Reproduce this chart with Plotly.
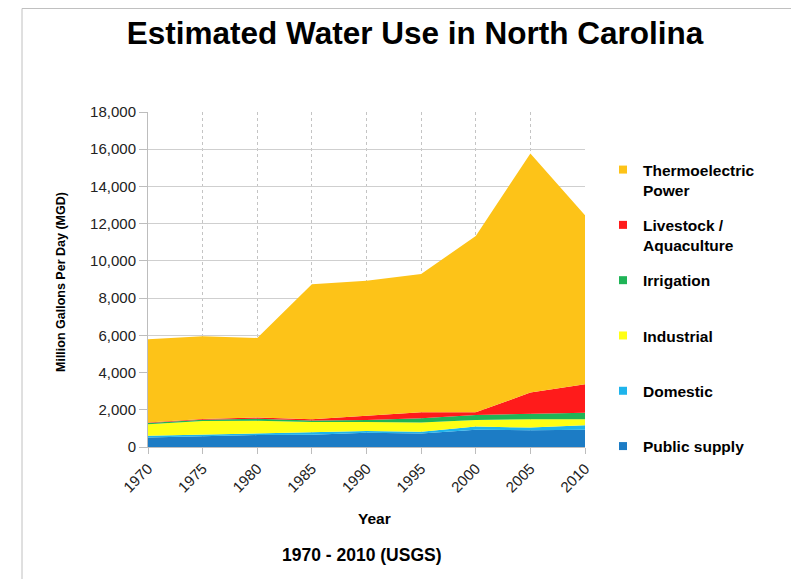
import plotly.graph_objects as go

years = [1970, 1975, 1980, 1985, 1990, 1995, 2000, 2005, 2010]
public_supply = [510, 590, 640, 660, 770, 720, 930, 900, 930]
domestic = [90, 70, 75, 110, 90, 105, 165, 145, 235]
industrial = [625, 735, 695, 570, 485, 485, 355, 450, 325]
irrigation = [70, 75, 110, 90, 105, 230, 270, 300, 355]
livestock = [20, 35, 60, 55, 235, 325, 145, 1130, 1525]
thermoelectric = [4470, 4445, 4280, 7265, 7245, 7425, 9475, 12845, 9080]

series = [
    ("Public supply", public_supply, "#1C7CC5"),
    ("Domestic", domestic, "#1EB4EC"),
    ("Industrial", industrial, "#FFFF14"),
    ("Irrigation", irrigation, "#1FB457"),
    ("Livestock /<br>Aquaculture", livestock, "#FF1B1B"),
    ("Thermoelectric<br>Power", thermoelectric, "#FDC318"),
]

fig = go.Figure()
for i, (name, vals, col) in enumerate(series):
    fig.add_trace(go.Scatter(
        x=years, y=vals, name=name, mode="lines",
        stackgroup="one", line=dict(width=0, color=col),
        fillcolor=col, legendgroup=f"g{i}", showlegend=False,
    ))
# legend entries, top to bottom: Thermoelectric ... Public supply
for i, (name, vals, col) in reversed(list(enumerate(series))):
    label = name if "<br>" in name else name + "<br> "
    fig.add_trace(go.Scatter(
        x=[None], y=[None], name=label, mode="markers",
        marker=dict(symbol="square", size=8, color=col),
        legendgroup=f"g{i}", showlegend=True,
    ))

OFF = 8  # page body margin
W, H = 799 - OFF, 579 - OFF
L, R, T, B = 148 - OFF, 585 - OFF, 112 - OFF, 447 - OFF
pw, ph = R - L, B - T

def px(x):
    return (x - OFF - L) / pw

def py(y):
    return (B - (y - OFF)) / ph

fig.update_layout(
    width=W, height=H,
    margin=dict(l=L, r=W - R, t=T, b=H - B, autoexpand=False),
    paper_bgcolor="white", plot_bgcolor="white",
    font=dict(family="Liberation Sans, Arial, sans-serif", color="#000"),
    title=dict(text="<b>Estimated Water Use in North Carolina</b>",
               font=dict(size=31.5, color="#000"),
               x=(415 - OFF) / W, xref="container", xanchor="center",
               y=1 - (33 - OFF) / H, yref="container", yanchor="middle"),
    showlegend=True,
    legend=dict(
        traceorder="grouped", tracegroupgap=12, valign="top",
        x=px(603), xanchor="left", y=py(153), yanchor="top",
        font=dict(size=15.5, color="#000", family="Liberation Sans, Arial, sans-serif", weight="bold"),
        itemwidth=30, bgcolor="rgba(0,0,0,0)",
    ),
    xaxis=dict(
        range=[1970, 2010], tickmode="array", tickvals=years,
        ticktext=[str(y) for y in years], tickangle=-45,
        showgrid=True, gridcolor="#C4C4C4", griddash="3px,3px", gridwidth=1,
        showline=True, linecolor="#BDBDBD", ticks="outside", ticklen=6,
        tickcolor="#BDBDBD", tickfont=dict(size=15, color="#222"),
        zeroline=False, automargin=False,
    ),
    yaxis=dict(
        range=[0, 18000], tickmode="array",
        tickvals=list(range(0, 18001, 2000)),
        ticktext=[f"{v:,}" for v in range(0, 18001, 2000)],
        showgrid=True, gridcolor="#CFCFCF", gridwidth=1,
        showline=True, linecolor="#BDBDBD", ticks="outside", ticklen=8,
        tickcolor="#BDBDBD", tickfont=dict(size=15, color="#222"),
        zeroline=False, automargin=False,
    ),
    annotations=[
        dict(text="<b>Year</b>", x=px(374), y=py(518), xref="paper", yref="paper",
             showarrow=False, font=dict(size=15.5, color="#000"), xanchor="center", yanchor="middle"),
        dict(text="<b>1970 - 2010 (USGS)</b>", x=px(362), y=py(555), xref="paper", yref="paper",
             showarrow=False, font=dict(size=17.5, color="#000"), xanchor="center", yanchor="middle"),
        dict(text="<b>Million Gallons Per Day (MGD)</b>", x=px(61), y=py(282), xref="paper", yref="paper",
             showarrow=False, textangle=-90, font=dict(size=12.5, color="#000"), xanchor="center", yanchor="middle"),
    ],
    shapes=[
        dict(type="rect", xref="paper", yref="paper",
             x0=px(22), x1=px(820), y0=py(600), y1=py(8.5),
             line=dict(color="#C0C0C0", width=1), fillcolor="rgba(0,0,0,0)", layer="below"),
    ],
)

fig.write_html("out.html")
